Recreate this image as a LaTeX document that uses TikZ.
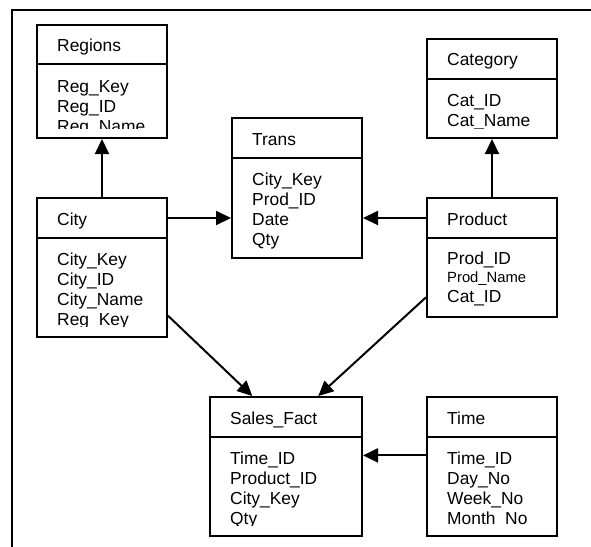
\documentclass[tikz,border=0pt]{standalone}
\usepackage{fontspec}
\setmainfont{Liberation Sans}
\usetikzlibrary{arrows.meta,fit,calc}
\begin{document}
\begin{tikzpicture}[x=1pt,y=-1pt,
  lw/.style={line width=2pt},
  tabbox/.style={draw, lw, inner sep=0pt},
  lbl/.style={anchor=base west, inner sep=0pt, font=\fontsize{17.4}{20}\selectfont},
  smalllbl/.style={anchor=base west, inner sep=0pt, font=\fontsize{14.8}{17}\selectfont},
  arr/.style={lw, -{Triangle[length=15pt,width=14pt]}},
]
\useasboundingbox (0,0) rectangle (591,546);
% outer frame
\draw[lw] (11.5,548) -- (11.5,10) -- (593,10);

% Regions
\node[tabbox, fit={(37,25) (167,138)}] (regions) {};
\node[tabbox, fit={(37,25) (167,64)}] (regionsh) {};
\begin{scope}
\clip (37,25) rectangle (167,128);
\node[lbl] (regionst) at (57,51) {Regions};
\node[lbl] (regions1) at (57,92) {Reg\_Key};
\node[lbl] (regions2) at (57,112) {Reg\_ID};
\node[lbl] (regions3) at (57,132) {Reg\_Name};
\end{scope}

% Category
\node[tabbox, fit={(427,39) (557,138)}] (category) {};
\node[tabbox, fit={(427,39) (557,79)}] (categoryh) {};
\begin{scope}
\clip (427,39) rectangle (557,128);
\node[lbl] (categoryt) at (447,65.5) {Category};
\node[lbl] (category1) at (447,106) {Cat\_ID};
\node[lbl] (category2) at (447,126) {Cat\_Name};
\end{scope}

% Trans
\node[tabbox, fit={(232,118) (362,258)}] (trans) {};
\node[tabbox, fit={(232,118) (362,158)}] (transh) {};
\begin{scope}
\clip (232,118) rectangle (362,248);
\node[lbl] (transt) at (252,145) {Trans};
\node[lbl] (trans1) at (252,185) {City\_Key};
\node[lbl] (trans2) at (252,205) {Prod\_ID};
\node[lbl] (trans3) at (252,225) {Date};
\node[lbl] (trans4) at (252,245) {Qty};
\end{scope}

% City
\node[tabbox, fit={(37,198) (167,337)}] (city) {};
\node[tabbox, fit={(37,198) (167,238)}] (cityh) {};
\begin{scope}
\clip (37,198) rectangle (167,326.5);
\node[lbl] (cityt) at (57,225) {City};
\node[lbl] (city1) at (57,265) {City\_Key};
\node[lbl] (city2) at (57,285) {City\_ID};
\node[lbl] (city3) at (57,305) {City\_Name};
\node[lbl] (city4) at (57,325.3) {Reg\_Key};
\end{scope}

% Product
\node[tabbox, fit={(427,198) (557,317)}] (product) {};
\node[tabbox, fit={(427,198) (557,238)}] (producth) {};
\begin{scope}
\clip (427,198) rectangle (557,307);
\node[lbl] (productt) at (447,225) {Product};
\node[lbl] (product1) at (447,264.5) {Prod\_ID};
\node[smalllbl] (product2) at (447,282) {Prod\_Name};
\node[lbl] (product3) at (447,302.5) {Cat\_ID};
\end{scope}

% Sales_Fact
\node[tabbox, fit={(210,397) (362,536)}] (sales) {};
\node[tabbox, fit={(210,397) (362,437)}] (salesh) {};
\begin{scope}
\clip (210,397) rectangle (362,525);
\node[lbl] (salest) at (230,424) {Sales\_Fact};
\node[lbl] (sales1) at (230,464) {Time\_ID};
\node[lbl] (sales2) at (230,484) {Product\_ID};
\node[lbl] (sales3) at (230,504) {City\_Key};
\node[lbl] (sales4) at (230,524) {Qty};
\end{scope}

% Time
\node[tabbox, fit={(427,397) (557,536)}] (time) {};
\node[tabbox, fit={(427,397) (557,437)}] (timeh) {};
\begin{scope}
\clip (427,397) rectangle (557,525);
\node[lbl] (timet) at (447,424) {Time};
\node[lbl] (time1) at (447,464) {Time\_ID};
\node[lbl] (time2) at (447,484) {Day\_No};
\node[lbl] (time3) at (447,504) {Week\_No};
\node[lbl] (time4) at (447,524) {Month\_No};
\end{scope}

% connectors
\draw[arr] (city.north) -- (regions.south);
\draw[arr] (product.north) -- (category.south);
\draw[arr] (cityh.east) -- (cityh.east -| trans.west);
\draw[arr] (producth.west) -- (producth.west -| trans.east);
\draw[arr] ($(city.north east)+(0,118.7)$) -- ($(sales.north west)+(43.3,0)$);
\draw[arr] ($(product.north west)+(0,100.3)$) -- ($(sales.north west)+(109.3,0)$);
\coordinate (tc) at ($(time.north west)+(0,59.4)$);
\draw[arr] (tc) -- (tc -| sales.east);
\end{tikzpicture}
\end{document}
